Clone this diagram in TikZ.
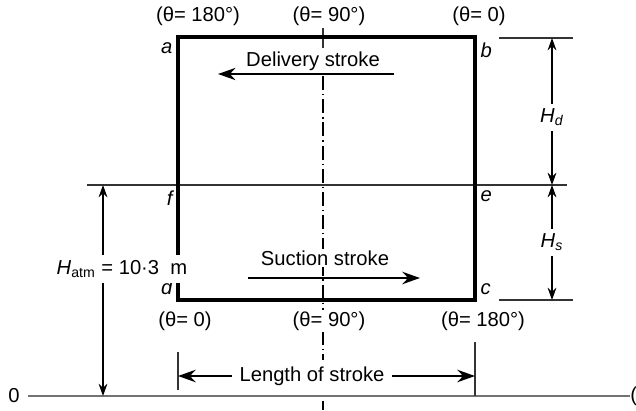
\documentclass[tikz,border=0pt]{standalone}
\usepackage{fontspec}
\setmainfont{Liberation Sans}
\usetikzlibrary{arrows.meta,positioning}

\begin{document}
\begin{tikzpicture}[
    x=0.02cm, y=-0.02cm,
    font=\fontsize{11.5}{13}\selectfont,
    wall/.style={line width=2pt},
    thinline/.style={line width=0.7pt, black!80},
    ground/.style={line width=1.3pt, black!55},
    dim/.style={{Stealth[length=7pt,width=5pt]}-{Stealth[length=7pt,width=5pt]}, line width=0.8pt},
    arrow/.style={-{Stealth[length=10pt,width=7pt]}, line width=1.5pt},
    thinarrow/.style={-{Stealth[length=10pt,width=7pt]}, line width=0.8pt},
    axis/.style={line width=0.6pt, dash pattern=on 8pt off 2.2pt on 0.8pt off 2.2pt},
    corner/.style={font=\itshape\fontsize{11.5}{13}\selectfont, inner sep=3pt},
    angle/.style={fill=white, inner sep=1pt}
]
\useasboundingbox (0,0) rectangle (636,410);

% Corners of the diagram
\coordinate (a) at (178,37);
\coordinate (b) at (475,37);
\coordinate (c) at (475,300);
\coordinate (d) at (178,300);
\coordinate (e) at (475,185);
\coordinate (f) at (178,185);

% Centre line
\draw[thinline] (323,28) -- (323,48);
\draw[axis] (323,76) -- (323,410);

% Atmospheric level and datum
\draw[thinline] (87,185) -- (567,185);
\draw[ground] (28,396) -- (630,396);
\node (zero) at (14,396) {0};
\node[anchor=west, inner sep=0pt] (cut) at (630,396) {(};

% Indicator diagram
\draw[wall] (a) -- (b) -- (c) -- (d) -- cycle;

% Corner labels
\node[corner, below left] at (a) {a};
\node[corner, below right] at (b) {b};
\node[corner, above right] at (c) {c};
\node[corner, above left] at (d) {d};
\node[corner, below right] at (e) {e};
\node[corner, below left] at (f) {f};

% Crank angles
\node[angle] (t180) at (198,16) {(θ= 180°)};
\node[angle] (t90) at (329,16) {(θ= 90°)};
\node[angle] (t0) at (479,16) {(θ= 0)};
\node[angle] (b0) at (185,321) {(θ= 0)};
\node[angle] (b90) at (329,321) {(θ= 90°)};
\node[angle] (b180) at (483,321) {(θ= 180°)};

% Strokes
\node[angle] (del) at (313,61) {Delivery stroke};
\coordinate (del start) at (394,74);
\coordinate (del end) at (218,74);
\draw[thinarrow] (del start) -- (del end);

\node[angle] (suc) at (325,258) {Suction stroke};
\coordinate (suc start) at (248,278);
\coordinate (suc end) at (420,278);
\draw[arrow] (suc start) -- (suc end);

% Heads
\coordinate (bt) at (499,38);
\coordinate (ct) at (499,300);
\draw[thinline] (bt) -- (573,38);
\draw[thinline] (ct) -- (573,300);
\draw[dim] (552,38) -- (552,185) node[pos=0.54, fill=white, inner sep=3pt] {\textit{H}\textsubscript{\textit{d}}};
\draw[dim] (552,185) -- (552,300) node[midway, fill=white, inner sep=3pt] {\textit{H}\textsubscript{\textit{s}}};
\draw[dim] (103,185) -- (103,396) node[pos=0.4, fill=white, inner sep=3pt, xshift=0.38cm] {\textit{H}\textsubscript{atm} = 10·3~~m};

% Length of stroke
\draw[thinline] (178,352) -- (178,390);
\draw[thinline] (475,342) -- (475,396);
\node[angle, inner sep=4pt] (len) at (312,376) {Length of stroke};
\draw[arrow] (len.west) -- (len.west -| d);
\draw[arrow] (len.east) -- (len.east -| c);
\end{tikzpicture}
\end{document}
